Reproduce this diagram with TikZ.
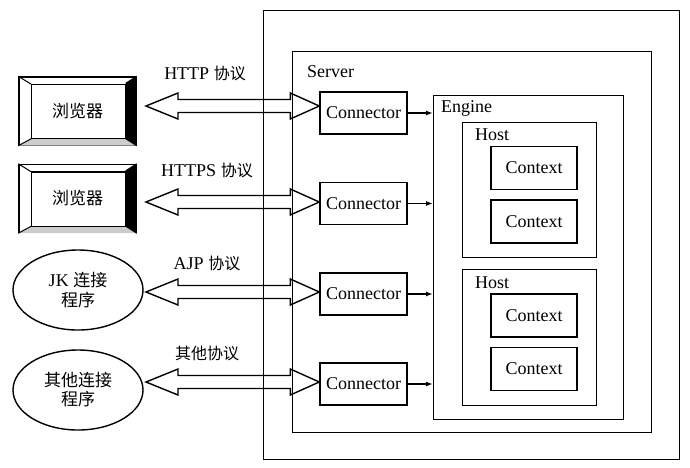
\documentclass[tikz,border=0pt]{standalone}
\usepackage{fontspec}
\setmainfont{Liberation Serif}
\newfontfamily\cjk{Noto Sans CJK SC}
\usetikzlibrary{calc,arrows.meta,shapes.geometric}

\tikzset{
	frame/.style = {draw, line width=1.4pt, anchor=north west, inner sep=0pt},
	conn/.style = {draw, line width=1.4pt, minimum width=87pt, minimum height=42pt, inner sep=1pt},
	ctx/.style = {draw, line width=1.4pt, minimum width=86pt, minimum height=43pt, inner sep=1pt},
	client/.style = {draw, line width=1.4pt, minimum width=117pt, minimum height=68pt},
	agent/.style = {draw, ellipse, line width=1.4pt, minimum width=130pt, minimum height=80pt, align=center},
	tag/.style = {anchor=west, inner sep=0pt},
	proto/.style = {inner sep=0pt}
}

% beveled button: outer node #1
\newcommand{\bevel}[1]{%
	\fill ([shift={(-11,7)}]#1.north east) -- (#1.north east) -- (#1.south east) -- ([shift={(-11,-7)}]#1.south east) -- cycle;
	\fill[black!20] (#1.south west) -- ([shift={(13,-7)}]#1.south west) -- ([shift={(-11,-7)}]#1.south east) -- (#1.south east) -- cycle;
	\draw[line width=1.4pt] ([shift={(13,8)}]#1.north west) rectangle ([shift={(-11,-7)}]#1.south east);
	\draw[line width=1pt] (#1.north west) -- ([shift={(13,8)}]#1.north west);
	\draw[line width=1pt] (#1.south west) -- ([shift={(13,-7)}]#1.south west);
	\draw[line width=1pt] (#1.north east) -- ([shift={(-11,7)}]#1.north east);
	\draw[line width=1pt] (#1.south east) -- ([shift={(-11,-7)}]#1.south east);
}

% hollow double arrow from #1 to #2
\newcommand{\dblarrow}[2]{%
	\draw[line width=1.4pt, line join=miter] (#1) -- ($(#1)+(32,-13)$) -- ($(#1)+(32,-6.5)$) -- ($(#2)+(-29,-6.5)$) -- ($(#2)+(-29,-13)$) -- (#2)
		-- ($(#2)+(-29,13)$) -- ($(#2)+(-29,6.5)$) -- ($(#1)+(32,6.5)$) -- ($(#1)+(32,13)$) -- cycle;
}

\begin{document}
\begin{tikzpicture}[x=1pt, y=-1pt, font=\fontsize{18}{21}\selectfont]
	\useasboundingbox (0,0) rectangle (690,467);

	% containers
	\node[frame, minimum width=416pt, minimum height=449pt] (outer) at (263,10) {};
	\node[frame, minimum width=359pt, minimum height=381pt] (server) at (292,51) {};
	\node[tag] at (307,72) {Server};
	\node[frame, minimum width=190pt, minimum height=324pt] (engine) at (433,95) {};
	\node[tag] at (441,108) {Engine};
	\node[frame, minimum width=134pt, minimum height=135pt] (host1) at (462,122) {};
	\node[tag] at (475,135) {Host};
	\node[frame, minimum width=134pt, minimum height=136pt] (host2) at (462,269) {};
	\node[tag] at (475,283) {Host};

	\node[ctx] (ctx1) at (534,168) {Context};
	\node[ctx] (ctx2) at (534,221.5) {Context};
	\node[ctx] (ctx3) at (534,315.5) {Context};
	\node[ctx] (ctx4) at (534,369) {Context};

	\node[conn] (c1) at (363.5,113) {Connector};
	\node[conn] (c2) at (363.5,203.5) {Connector};
	\node[conn] (c3) at (363.5,294) {Connector};
	\node[conn] (c4) at (363.5,384) {Connector};

	\foreach \i in {1,...,4}
		\draw[line width=1.4pt, -{Latex[length=7pt,width=5pt]}] (c\i.east) -- (c\i.east -| engine.west);

	% clients
	\node[client, font=\cjk\fontsize{17}{20}\selectfont] (b1) at (77.5,111) {浏览器};
	\bevel{b1}
	\node[client, font=\cjk\fontsize{17}{20}\selectfont] (b2) at (77.5,198.5) {浏览器};
	\bevel{b2}
	\node[agent] (jk) at (78,290) {JK {\cjk\fontsize{17}{20}\selectfont 连接}\\[-1pt]{\cjk\fontsize{17}{20}\selectfont 程序}};
	\node[agent, font=\cjk\fontsize{17}{20}\selectfont] (other) at (78,390) {其他连接\\[-1pt]程序};

	% protocols
	\coordinate (a1) at (146,106);
	\coordinate (a2) at (146,202);
	\coordinate (a3) at (146,292);
	\coordinate (a4) at (146,382);
	\coordinate (t1) at (a1 -| c1.west);
	\coordinate (t2) at (a2 -| c2.west);
	\coordinate (t3) at (a3 -| c3.west);
	\coordinate (t4) at (a4 -| c4.west);
	\dblarrow{a1}{t1}
	\dblarrow{a2}{t2}
	\dblarrow{a3}{t3}
	\dblarrow{a4}{t4}

	\node[proto] at (205,73) {HTTP {\cjk\fontsize{16}{19}\selectfont 协议}};
	\node[proto] at (207,170) {HTTPS {\cjk\fontsize{16}{19}\selectfont 协议}};
	\node[proto] at (207,263) {AJP {\cjk\fontsize{16}{19}\selectfont 协议}};
	\node[proto, font=\cjk\fontsize{16}{19}\selectfont] at (207,353) {其他协议};
\end{tikzpicture}
\end{document}
